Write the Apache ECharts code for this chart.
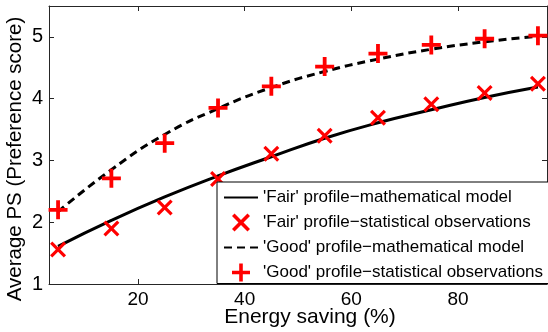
<!DOCTYPE html>
<html>
<head>
<meta charset="utf-8">
<script src="https://cdn.jsdelivr.net/npm/echarts@6/dist/echarts.min.js"></script>
<style>
  html, body { margin: 0; padding: 0; background: #fff; }
  #chart { width: 548px; height: 332px; }
</style>
</head>
<body>
<div id="chart"></div>
<script>
// energy saving (%)
const xValues = [5, 15, 25, 35, 45, 55, 65, 75, 85, 95]
// observed preference scores
const fairObs = [1.56, 1.9, 2.24, 2.7, 3.11, 3.4, 3.69, 3.91, 4.09, 4.24]
const goodObs = [2.2, 2.71, 3.28, 3.85, 4.2, 4.52, 4.73, 4.87, 4.97, 5.02]
// model curves, read at the same x positions
const fairModel = [1.61, 2.03, 2.41, 2.75, 3.06, 3.36, 3.61, 3.82, 4.02, 4.19]
const goodModel = [2.17, 2.85, 3.42, 3.84, 4.18, 4.44, 4.64, 4.8, 4.92, 5.01]
const xTicks = [20, 40, 60, 80]
const yTicks = [1, 2, 3, 4, 5]
const seriesNames = [
  "'Fair' profile\u2212mathematical model",
  "'Fair' profile\u2212statistical observations",
  "'Good' profile\u2212mathematical model",
  "'Good' profile\u2212statistical observations",
]

const plusPath = "path://M8,0H12V8H20V12H12V20H8V12H0V8H8Z"
const crossPath = "path://M2.8,0L10,7.2L17.2,0L20,2.8L12.8,10L20,17.2L17.2,20L10,12.8L2.8,20L0,17.2L7.2,10L0,2.8Z"
const font = "Liberation Sans, Arial, Helvetica, sans-serif"

function pairs(ys) {
  return xValues.map((x, i) => [x, ys[i]])
}

let myChart = echarts.init(document.getElementById("chart"))

const axisLine = { show: true, lineStyle: { color: "#262626", width: 1 } }
const noSymbol = { color: "rgba(0,0,0,0)", borderWidth: 0 }

myChart.setOption({
  animation: false,
  backgroundColor: "#fff",
  grid: { left: 49, right: 1, top: 6, bottom: 48 },
  xAxis: [
    {
      type: "value",
      min: 3.3,
      max: 96.7,
      position: "bottom",
      axisLine: axisLine,
      splitLine: { show: false },
      axisTick: { show: true, inside: true, length: 5, customValues: xTicks, lineStyle: { color: "#262626" } },
      axisLabel: { customValues: xTicks, color: "#000", fontSize: 19, fontFamily: font, margin: 6 },
    },
    {
      type: "value",
      min: 3.3,
      max: 96.7,
      position: "top",
      axisLine: axisLine,
      splitLine: { show: false },
      axisTick: { show: true, inside: true, length: 5, customValues: xTicks, lineStyle: { color: "#262626" } },
      axisLabel: { show: false },
    },
  ],
  yAxis: [
    {
      type: "value",
      min: 1,
      max: 5.5,
      position: "left",
      axisLine: axisLine,
      splitLine: { show: false },
      axisTick: { show: true, inside: true, length: 5, customValues: yTicks, lineStyle: { color: "#262626" } },
      axisLabel: { customValues: yTicks, color: "#000", fontSize: 20, fontFamily: font, margin: 6 },
    },
    {
      type: "value",
      min: 1,
      max: 5.5,
      position: "right",
      axisLine: axisLine,
      splitLine: { show: false },
      axisTick: { show: true, inside: true, length: 5, customValues: yTicks, lineStyle: { color: "#262626" } },
      axisLabel: { show: false },
    },
  ],
  legend: {
    orient: "vertical",
    left: 217,
    top: 182,
    padding: [7, 8, 2, 6],
    itemGap: 7.5,
    itemWidth: 34,
    itemHeight: 18,
    backgroundColor: "#fff",
    borderColor: "#000",
    borderWidth: 1,
    borderRadius: 0,
    textStyle: { color: "#000", fontSize: 17, fontFamily: font },
    data: [
      { name: seriesNames[0], itemStyle: noSymbol },
      { name: seriesNames[1] },
      { name: seriesNames[2], itemStyle: noSymbol },
      { name: seriesNames[3] },
    ],
  },
  series: [
    {
      name: seriesNames[0],
      type: "line",
      data: pairs(fairModel),
      smooth: true,
      symbol: "none",
      lineStyle: { color: "#000", width: 3 },
      itemStyle: { color: "#000" },
      z: 2,
    },
    {
      name: seriesNames[1],
      type: "scatter",
      data: pairs(fairObs),
      symbol: crossPath,
      symbolSize: 16,
      itemStyle: { color: "#ff0000", opacity: 1 },
      z: 3,
    },
    {
      name: seriesNames[2],
      type: "line",
      data: pairs(goodModel),
      smooth: true,
      symbol: "none",
      lineStyle: { color: "#000", width: 3, type: [8, 5] },
      itemStyle: { color: "#000" },
      z: 2,
    },
    {
      name: seriesNames[3],
      type: "scatter",
      data: pairs(goodObs),
      symbol: plusPath,
      symbolSize: 19,
      itemStyle: { color: "#ff0000", opacity: 1 },
      z: 3,
    },
  ],
  graphic: [
    {
      type: "text",
      x: 310,
      y: 317,
      style: { text: "Energy saving (%)", fontSize: 21, fontFamily: font, fill: "#000", align: "center", verticalAlign: "middle" },
    },
    {
      type: "text",
      x: 15,
      y: 159,
      rotation: Math.PI / 2,
      style: { text: "Average PS (Preference score)", fontSize: 20.5, fontFamily: font, fill: "#000", align: "center", verticalAlign: "middle" },
    },
  ],
})
</script>
</body>
</html>
